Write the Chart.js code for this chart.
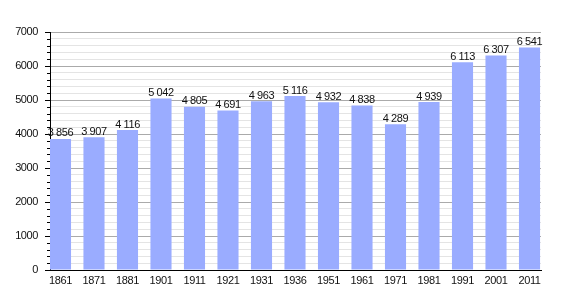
<!DOCTYPE html>
<html><head><meta charset="utf-8">
<script src="https://cdn.jsdelivr.net/npm/chart.js@4/dist/chart.umd.min.js"></script>
<style>html,body{margin:0;padding:0;background:#fff}#w{width:570px;height:300px}</style>
</head><body><div id="w"><canvas id="c"></canvas></div>
<script>
const years = ['1861','1871','1881','1901','1911','1921','1931','1936','1951','1961','1971','1981','1991','2001','2011'];
const population = [3856,3907,4116,5042,4805,4691,4963,5116,4932,4838,4289,4939,6113,6307,6541];
const yMax = 7000;
const yStep = 200;

const FONT = '"Liberation Sans", Arial, sans-serif';
const fmt = v => String(v).replace(/\B(?=(\d{3})+(?!\d))/g, ' ');
const points = population.map((v, i) => ({ x: i, y: v }));

const labelPlugin = {
  id: 'vals',
  beforeDraw(chart) { chart.ctx.letterSpacing = '-0.4px'; },
  afterDatasetsDraw(chart) {
    const ctx = chart.ctx;
    const meta = chart.getDatasetMeta(0);
    ctx.save();
    ctx.letterSpacing = '-0.4px';
    ctx.font = '11px ' + FONT;
    ctx.fillStyle = '#111';
    ctx.textAlign = 'center';
    ctx.textBaseline = 'bottom';
    meta.data.forEach((el, i) => {
      ctx.fillText(fmt(population[i]), el.x, el.y);
    });
    // minor tick marks on y axis
    const ys = chart.scales.y;
    ctx.strokeStyle = '#000';
    ctx.lineWidth = 1;
    ys.ticks.forEach(t => {
      if (t.value % 1000 !== 0) {
        const py = Math.round(ys.getPixelForValue(t.value)) + 0.5;
        ctx.beginPath();
        ctx.moveTo(ys.right - 3, py);
        ctx.lineTo(ys.right, py);
        ctx.stroke();
      }
    });
    ctx.restore();
  }
};
new Chart(document.getElementById('c'), {
  type: 'bar',
  data: { datasets: [{ data: points, backgroundColor: '#9aacff', borderWidth: 0, categoryPercentage: 0.63, barPercentage: 1 }] },
  options: {
    responsive: true, maintainAspectRatio: false, animation: false,
    layout: { padding: { left: 0, right: 29, top: 32, bottom: 10 } },
    plugins: { legend: { display: false }, tooltip: { enabled: false } },
    scales: {
      x: {
        type: 'linear', min: -0.313, max: 14.343, offset: false,
        afterBuildTicks(s) { s.ticks = years.map((_, i) => ({ value: i })); },
        grid: { display: false, drawTicks: false },
        border: { color: '#000', width: 1 },
        ticks: { color: '#111', font: { family: FONT, size: 11 }, padding: 4, maxRotation: 0, autoSkip: false,
          callback: v => Number.isInteger(v) && years[v] !== undefined ? years[v] : '' },
        afterFit(s) { s.height = 20; }
      },
      y: {
        min: 0, max: yMax,
        grid: {
          color: c => (c.tick && c.tick.value % 1000 === 0) ? '#aaaaaa' : '#e4e4e4',
          tickColor: c => (c.tick && c.tick.value % 1000 === 0) ? '#000' : 'rgba(0,0,0,0)',
          tickLength: 5, drawTicks: true
        },
        border: { color: '#000', width: 1 },
        ticks: { stepSize: yStep, autoSkip: false, color: '#111', padding: 7,
          font: { family: FONT, size: 11 },
          callback: v => v % 1000 === 0 ? String(v) : '' },
        afterFit(s) { s.width = 50; }
      }
    }
  },
  plugins: [labelPlugin]
});
</script></body></html>
